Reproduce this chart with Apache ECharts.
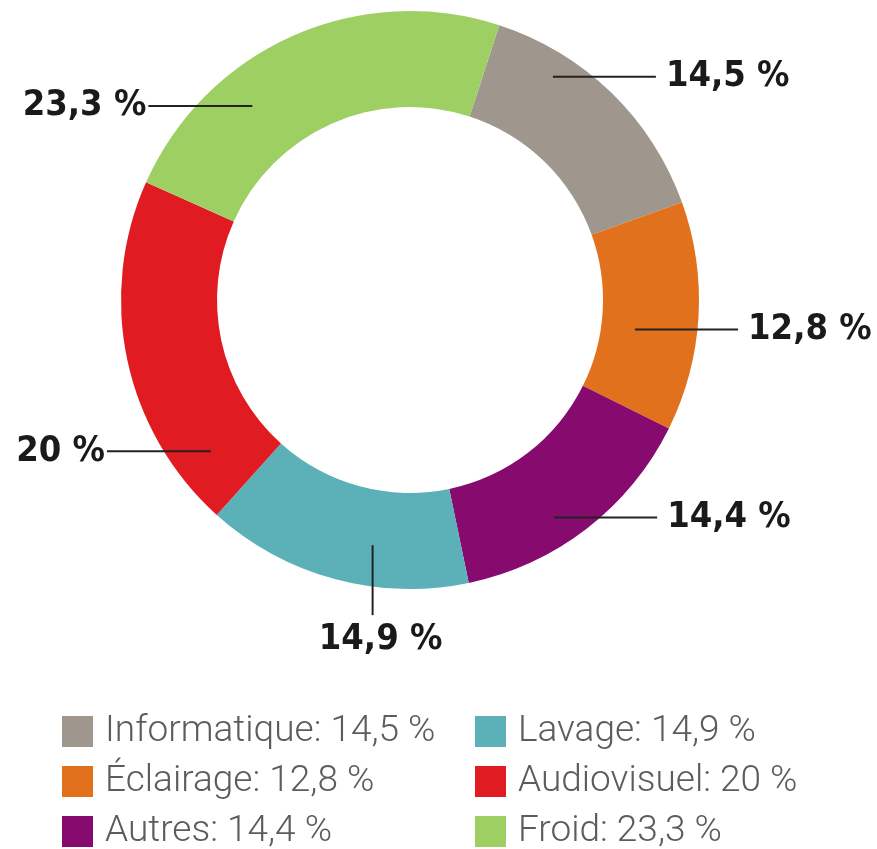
<!DOCTYPE html>
<html>
<head>
<meta charset="utf-8">
<script src="https://cdn.jsdelivr.net/npm/echarts@6/dist/echarts.min.js"></script>
<style>
  html, body { margin: 0; padding: 0; background: #fff; }
  #chart { width: 877px; height: 849px; }
</style>
</head>
<body>
<div id="chart"></div>
<script>
const categories = ['Informatique', 'Éclairage', 'Autres', 'Lavage', 'Audiovisuel', 'Froid'];
const values = [14.5, 12.8, 14.4, 14.9, 20, 23.3];
const colors = ['#9f968d', '#e2711d', '#870b6f', '#5cb1b9', '#e11b22', '#9ecf63'];

// callouts: where the line starts inside its slice (share of the sweep), at what radius, which way it runs
const calloutAt = [0.28, 0.59, 0.58, 0.38, 0.15, 0.32];
const calloutR = [265, 227, 261, 248, 250, 250];
const calloutDir = ['right', 'right', 'right', 'down', 'left', 'left'];

const CX = 410, CY = 300;
const START = 18; // degrees clockwise from 12 o'clock

const fr = v => String(v).replace('.', ',') + ' %';
const total = values.reduce((a, b) => a + b, 0);
const pieData = categories.map((c, i) => ({ name: c, value: values[i] }));

function callout(params) {
  const i = params.dataIndex;
  let before = 0;
  for (let k = 0; k < i; k++) before += values[k];
  const a = (START + (before + calloutAt[i] * values[i]) / total * 360) * Math.PI / 180;
  const ax = CX + calloutR[i] * Math.sin(a);
  const ay = CY - calloutR[i] * Math.cos(a);
  const dir = calloutDir[i];
  if (dir === 'down') {
    const ey = ay + 70;
    return {
      x: ax + 8, y: ey + 6, align: 'center', verticalAlign: 'top',
      labelLinePoints: [[ax, ay], [ax, (ay + ey) / 2], [ax, ey]]
    };
  }
  const ex = dir === 'right' ? ax + 103 : ax - 104;
  return {
    x: dir === 'right' ? ex + 10 : ex - 2,
    y: ay,
    align: dir === 'right' ? 'left' : 'right',
    verticalAlign: 'middle',
    labelLinePoints: [[ax, ay], [(ax + ex) / 2, ay], [ex, ay]]
  };
}

const legendText = {
  fontFamily: 'Roboto',
  fontWeight: 300,
  fontSize: 37,
  lineHeight: 31,
  color: '#5c5c5c',
  padding: [0, 0, 0, 7]
};

function legendCol(names, left) {
  return {
    data: names.map(n => ({ name: n, itemStyle: { color: colors[categories.indexOf(n)] } })),
    orient: 'vertical',
    left: left, top: 713, height: 150, padding: 0,
    icon: 'rect', itemWidth: 31, itemHeight: 31, itemGap: 13,
    selectedMode: false,
    formatter: n => n + ': ' + fr(values[categories.indexOf(n)]),
    textStyle: legendText
  };
}

const chart = echarts.init(document.getElementById('chart'));
chart.setOption({
  backgroundColor: '#fff',
  animation: false,
  color: colors,
  legend: [legendCol(categories.slice(0, 3), 62), legendCol(categories.slice(3), 475)],
  series: [
    {
      // the ring
      type: 'pie',
      center: [CX, CY],
      radius: [193, 289],
      startAngle: 90 - START,
      clockwise: true,
      silent: true,
      itemStyle: { borderWidth: 0 },
      label: { show: false },
      labelLine: { show: false },
      data: pieData
    },
    {
      // same ring, invisible, only carrying the callouts so they sit on top
      type: 'pie',
      z: 5,
      center: [CX, CY],
      radius: [193, 289],
      startAngle: 90 - START,
      clockwise: true,
      silent: true,
      avoidLabelOverlap: false,
      itemStyle: { color: 'rgba(0,0,0,0)', borderWidth: 0 },
      label: {
        show: true,
        position: 'outside',
        formatter: p => fr(p.value),
        fontFamily: 'DejaVu Sans Condensed',
        fontWeight: 'bold',
        fontSize: 36,
        lineHeight: 36,
        color: '#1a1a1a'
      },
      labelLine: {
        show: true,
        lineStyle: { color: '#222', width: 2 }
      },
      labelLayout: callout,
      data: pieData
    }
  ]
});
</script>
</body>
</html>
